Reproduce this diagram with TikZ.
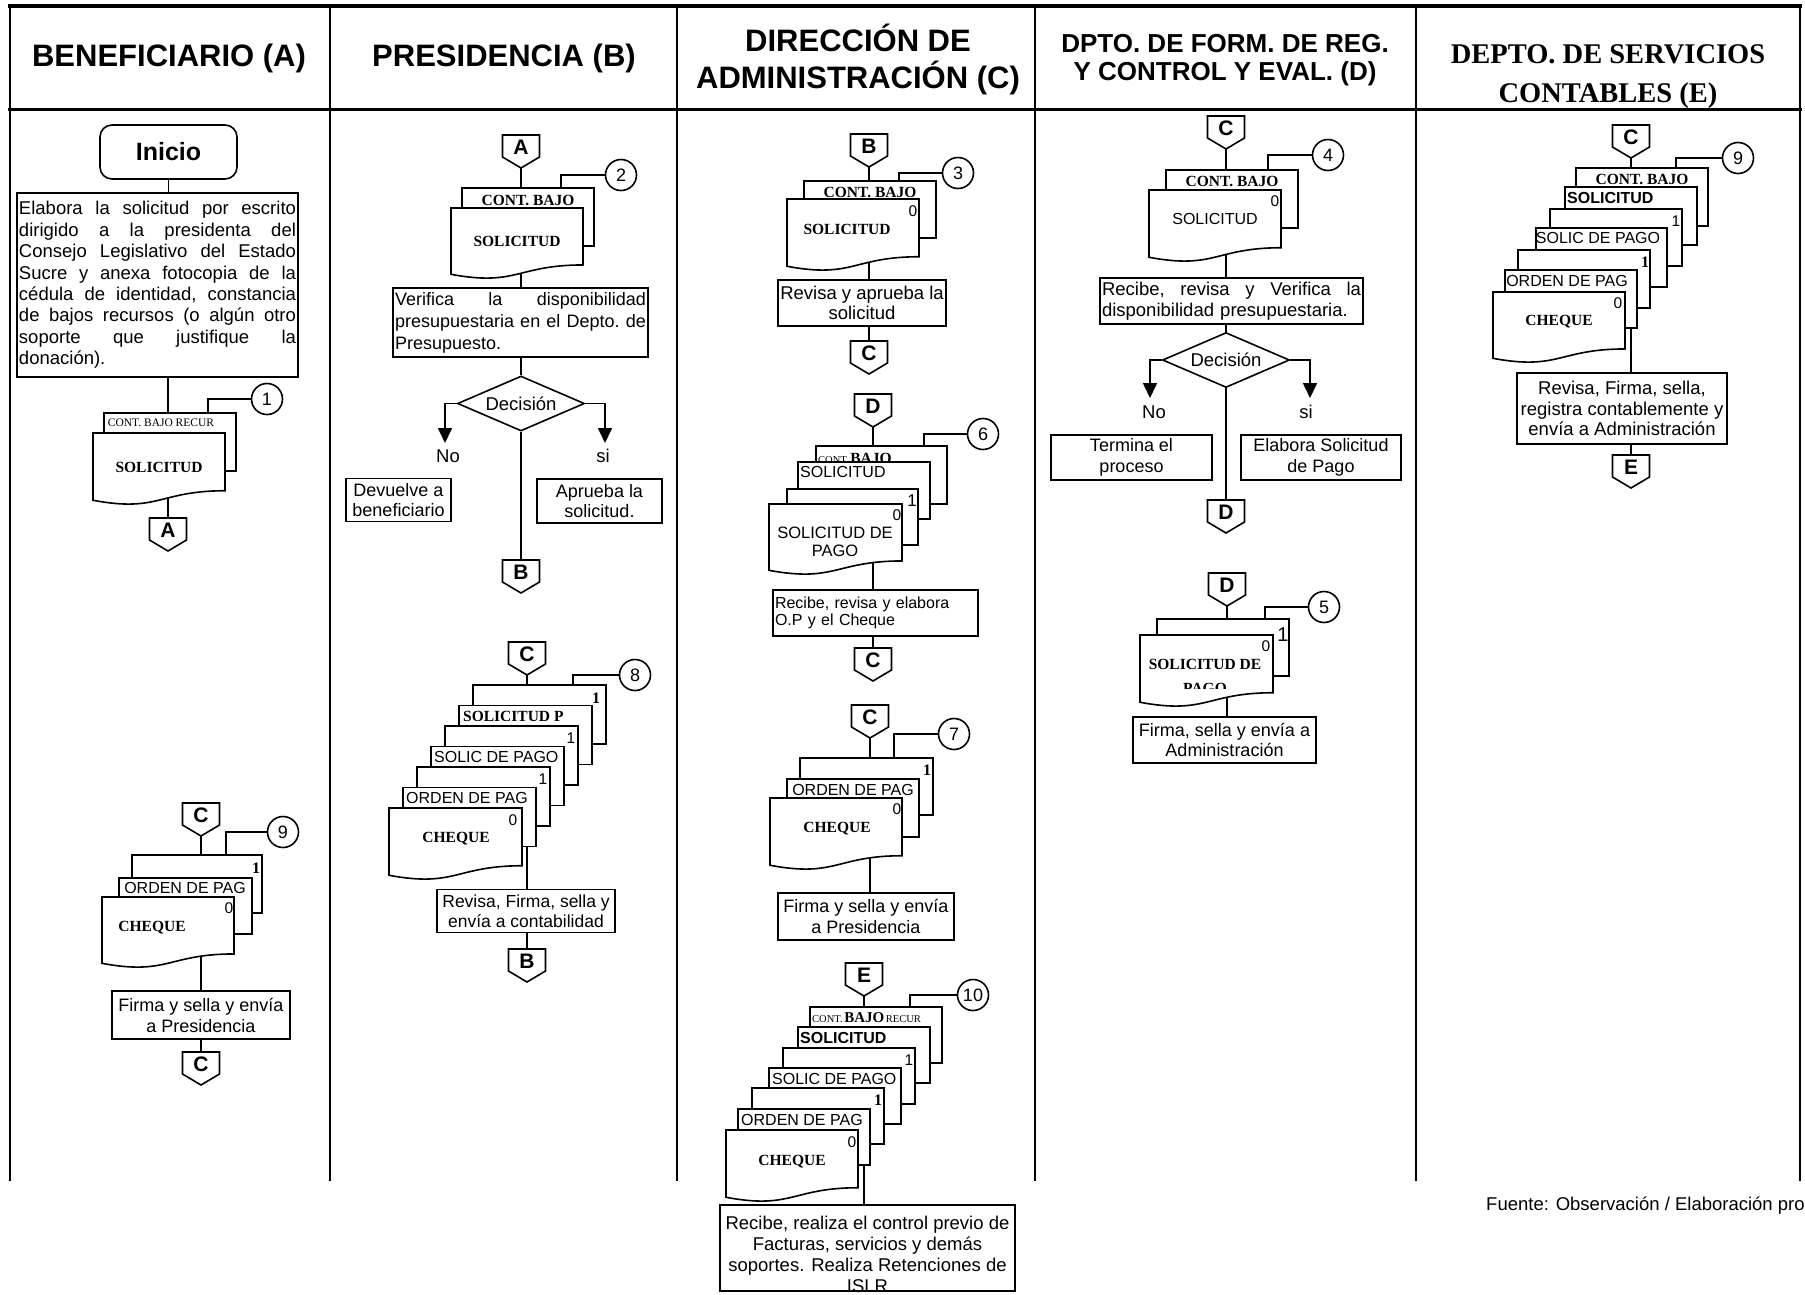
\documentclass[tikz,border=0pt]{standalone}
\usepackage{fontspec}
\setmainfont{Liberation Sans}
\newfontfamily\tms{Liberation Serif}
\usetikzlibrary{shapes.geometric,arrows.meta,backgrounds}
\pgfdeclarelayer{bottom}
\pgfsetlayers{bottom,background,main}
\newcommand\fs[2]{\fontsize{#1}{#2}\selectfont}
\newcommand\jl[2]{\leavevmode\hbox to #1{#2}}
\newcommand\opc[4]{%
  \draw[ln,fill=white] ({#2-18.5},#3) -- ({#2+18.5},#3) -- ({#2+18.5},#3+22) -- (#2,#3+33) -- ({#2-18.5},#3+22) -- cycle;
  \node[lett] (#1) at (#2,#3+12) {#4};
  \coordinate (#1-n) at (#2,#3);
  \coordinate (#1-s) at (#2,#3+33);}
\newcommand\sht[4]{\draw[ln,fill=white] (#1,#2) rectangle ++(#3,#4);}
\newcommand\docu[4]{\draw[ln,fill=white] (#1,#2) -- ++(#3,0) -- ++(0,0.802*#4) .. controls ({#1+#3/2},{#2+0.802*#4}) and ({#1+#3/2},{#2+1.107*#4}) .. (#1,{#2+0.934*#4}) -- cycle;}
\begin{document}
\begin{tikzpicture}[x=1pt,y=-1pt,
  ln/.style={line width=1.6pt},
  box/.style={draw, ln, fill=white, inner sep=0pt, align=center, font=\fs{18}{20.5}},
  circ/.style={draw, ln, circle, fill=white, minimum size=31pt, inner sep=0pt, font=\fs{18}{18}},
  lett/.style={inner sep=0pt, font=\bfseries\fs{21}{21}},
  dia/.style={draw, ln, diamond, fill=white, aspect=2.3, inner sep=0pt, minimum width=127pt, minimum height=55pt, font=\fs{18.5}{18.5}},
  arw/.style={ln, -{Triangle[width=14pt,length=15pt]}},
  tb/.style={inner sep=0pt, font=\tms\bfseries\fs{15.5}{16}},
  tr/.style={inner sep=0pt, font=\tms\fs{11.5}{12}},
  ss/.style={inner sep=0pt, font=\fs{16}{17}},
  sb/.style={inner sep=0pt, font=\bfseries\fs{16}{17}},
  nm/.style={inner sep=0pt, font=\fs{15.5}{16}},
  nb/.style={inner sep=0pt, font=\tms\bfseries\fs{16}{16}},
  lab/.style={inner sep=0pt, font=\fs{18.5}{18.5}},
  hd/.style={inner sep=0pt, align=center, font=\bfseries\fs{31}{37}}]
\useasboundingbox (0,0) rectangle (1805,1294);
\begin{pgfonlayer}{bottom}
\fill[white] (0,0) rectangle (1805,1294);
\end{pgfonlayer}
% table
\draw[line width=3.5pt] (8,6) -- (1802,6);
\draw[line width=3pt] (8,109) -- (1802,109);
\foreach \x in {10,330,677,1035,1416,1800} {\draw[line width=2.8pt] (\x,5) -- (\x,1181);}
% headers
\node[hd] (hA) at (169,58) {BENEFICIARIO (A)};
\node[hd] (hB) at (504,58) {PRESIDENCIA (B)};
\node[hd] (hC) at (858,59) {DIRECCIÓN DE\\ADMINISTRACIÓN (C)};
\node[hd, font=\bfseries\fs{26}{28}] (hD) at (1225,60) {DPTO. DE FORM. DE REG.\\Y CONTROL Y EVAL. (D)};
\node[hd, font=\tms\bfseries\fs{28.5}{39}] (hE) at (1608,77) {DEPTO. DE SERVICIOS\\CONTABLES (E)};
% ---------- column A
\node[draw, ln, rounded corners=12pt, fill=white, minimum width=137pt, minimum height=54pt, inner sep=0pt, font=\bfseries\fs{25}{25}] (ini) at (168.5,152) {Inicio};
\node[box, align=left, minimum width=281pt, minimum height=184pt, text width=277pt, font=\fs{18.5}{21.4}] (bA1) at (157.5,285) {%
\jl{277pt}{Elabora\hfill la\hfill solicitud\hfill por\hfill escrito}\\
\jl{277pt}{dirigido\hfill a\hfill la\hfill presidenta\hfill del}\\
\jl{277pt}{Consejo\hfill Legislativo\hfill del\hfill Estado}\\
\jl{277pt}{Sucre\hfill y\hfill anexa\hfill fotocopia\hfill de\hfill la}\\
\jl{277pt}{cédula\hfill de\hfill identidad,\hfill constancia}\\
\jl{277pt}{de\hfill bajos\hfill recursos\hfill (o\hfill algún\hfill otro}\\
\jl{277pt}{soporte\hfill que\hfill justifique\hfill la}\\
donación).};
\sht{104}{413}{132}{58}
\node[tr] (a1t) at (161,423) {CONT. BAJO RECUR};
\docu{93}{433}{132}{72}
\node[tb] (a1s) at (159,467) {SOLICITUD};
\node[circ] (c1) at (267,399) {1};
\coordinate (k1) at (208,413);
\opc{oA1}{168}{518}{A}
% lower A
\opc{oA2}{201}{803}{C}
\sht{132}{855}{130}{58}
\node[nb] (a9n1) at (256,868) {1};
\sht{119}{878}{133}{56}
\node[ss] (a9o) at (185,888) {ORDEN DE PAG};
\docu{102}{897}{132}{71}
\node[nm] (a9z) at (229,908) {0};
\node[tb] (a9c) at (152,928) {CHEQUE};
\node[circ] (c9a) at (283,832) {9};
\coordinate (k9a) at (226,855);
\node[box, minimum width=178pt, minimum height=48pt, font=\fs{18}{21}] (bA2) at (201,1015) {Firma y sella y envía\\a Presidencia};
\opc{oA3}{201}{1052}{C}
% ---------- column B
\opc{oB1}{521}{135}{A}
\sht{462}{188}{132}{58}
\node[tb] (b2t) at (528,200) {CONT. BAJO};
\docu{451}{208}{132}{71}
\node[tb] (b2s) at (517,241) {SOLICITUD};
\node[circ] (c2) at (621,175) {2};
\coordinate (k2) at (561,188);
\node[box, align=left, minimum width=255pt, minimum height=69pt, text width=251pt, font=\fs{18}{22}] (bB1) at (520.5,322.5) {\jl{251pt}{Verifica\hfill la\hfill disponibilidad}\\\jl{251pt}{presupuestaria\hfill en\hfill el\hfill Depto.\hfill de}\\Presupuesto.};
\node[dia] (dB) at (521,403.5) {Decisión};
\coordinate (nB) at (445,443);
\coordinate (sB) at (605,443);
\node[lab] (noB) at (448,456) {No};
\node[lab] (siB) at (603,456) {si};
\node[box, minimum width=105pt, minimum height=43pt, font=\fs{18}{20}] (bB2) at (398.5,500) {Devuelve a\\beneficiario};
\node[box, minimum width=125pt, minimum height=44pt] (bB3) at (599.5,501) {Aprueba la\\solicitud.};
\opc{oB2}{521}{560}{B}
% lower B
\opc{oB3}{527}{642}{C}
\sht{473}{685}{133}{59}
\node[nb] (b8n1) at (596,698) {1};
\sht{459}{705.5}{133}{59}
\node[tb, anchor=west] (b8s) at (463,716) {SOLICITUD P};
\sht{445}{726}{133}{59}
\node[nm] (b8n2) at (571,738) {1};
\sht{431}{746.5}{133}{59}
\node[ss, anchor=west] (b8p) at (434,757) {SOLIC DE PAGO};
\sht{417}{767}{133}{59}
\node[nm] (b8n3) at (543,779) {1};
\sht{403}{787.5}{133}{59}
\node[ss, anchor=west] (b8o) at (406,798) {ORDEN DE PAG};
\docu{389}{808}{133}{72}
\node[nm] (b8z) at (513,820) {0};
\node[tb] (b8c) at (456,839) {CHEQUE};
\node[circ] (c8) at (635,675) {8};
\coordinate (k8) at (573,685);
\node[box, minimum width=178pt, minimum height=43pt, font=\fs{17.5}{20}] (bB4) at (526,911) {Revisa, Firma, sella y\\envía a contabilidad};
\opc{oB4}{527}{949}{B}
% ---------- column C
\opc{oC1}{869}{134}{B}
\sht{804}{181}{132}{57}
\node[tb] (c3t) at (870,192) {CONT. BAJO};
\docu{787}{199}{132}{72}
\node[nm] (c3z) at (913,211) {0};
\node[tb] (c3s) at (847,229) {SOLICITUD};
\node[circ] (c3) at (958,173) {3};
\coordinate (k3) at (899,181);
\node[box, minimum width=168pt, minimum height=46pt, font=\fs{18.5}{20.5}] (bC1) at (862,303) {Revisa y aprueba la\\solicitud};
\opc{oC2}{869}{341}{C}
% stack 6
\opc{oC3}{873}{394}{D}
\sht{816}{446}{131}{58}
\node[anchor=west, inner sep=0pt] (c6t) at (818,458) {{\tms\fs{10.5}{11}CONT.}\,{\tms\bfseries\fs{15.5}{16}BAJO}};
\sht{798}{462}{132}{57}
\node[ss, anchor=west] (c6s) at (800,472) {SOLICITUD};
\sht{787}{489}{131}{56}
\node[nm, font=\fs{17}{17}] (c6n) at (912,501) {1};
\docu{769}{504}{133}{71}
\node[nm] (c6z) at (897,515) {0};
\node[ss, align=center, font=\fs{16.5}{18.5}] (c6p) at (835,542) {SOLICITUD DE\\PAGO};
\node[circ] (c6) at (983,434) {6};
\coordinate (k6) at (924,446);
\node[box, align=left, minimum width=205pt, minimum height=46pt, text width=201pt, font=\fs{16}{17.5}] (bC2) at (875.5,613) {Recibe, revisa y elabora\\O.P y el Cheque};
\opc{oC4}{873}{648}{C}
% stack 7
\opc{oC5}{870}{705}{C}
\sht{800}{758}{133}{57}
\node[nb] (c7n) at (927,770) {1};
\sht{787}{779}{132}{58}
\node[ss] (c7o) at (853,790) {ORDEN DE PAG};
\docu{770}{798}{132}{72}
\node[nm] (c7z) at (897,809) {0};
\node[tb] (c7c) at (837,829) {CHEQUE};
\node[circ] (c7) at (954,734) {7};
\coordinate (k7) at (894,758);
\node[box, minimum width=176pt, minimum height=47pt, font=\fs{18}{21}] (bC3) at (866,916.5) {Firma y sella y envía\\a Presidencia};
% stack 10
\opc{oC6}{864}{963}{E}
\sht{810}{1007}{132}{56}
\node[anchor=west, inner sep=0pt] (c10t) at (812,1018) {{\tms\fs{10.5}{11}CONT.}\,{\tms\bfseries\fs{15}{16}BAJO}\,{\tms\fs{10.5}{11}RECUR}};
\sht{798}{1027}{132}{56}
\node[sb, anchor=west] (c10s) at (800,1038) {SOLICITUD};
\sht{783}{1048}{132}{56}
\node[nm] (c10n1) at (909,1060) {1};
\sht{769}{1068}{132}{56}
\node[ss, anchor=west] (c10p) at (772,1079) {SOLIC DE PAGO};
\sht{752}{1088}{132}{56}
\node[nb] (c10n2) at (878,1100) {1};
\sht{738}{1109}{132}{56}
\node[ss, anchor=west] (c10o) at (741,1120) {ORDEN DE PAG};
\docu{726}{1130}{132}{72}
\node[nm] (c10z) at (852,1142) {0};
\node[tb] (c10c) at (792,1162) {CHEQUE};
\node[circ] (c10) at (973,995) {10};
\coordinate (k10) at (910,1007);
\node[box, minimum width=295pt, minimum height=86pt] (bC4) at (867.5,1248) {};
\node[inner sep=0pt, align=center, anchor=north, font=\fs{18.5}{20.8}] (bC4t) at (867.5,1216) {Recibe, realiza el control previo de\\Facturas, servicios y demás\\soportes. Realiza Retenciones de\\ISLR};
% ---------- column D
\opc{oD1}{1226}{116}{C}
\sht{1166}{170}{132}{58}
\node[tb] (d4t) at (1232,181) {CONT. BAJO};
\docu{1149}{190}{132}{72}
\node[nm] (d4z) at (1275,201) {0};
\node[ss] (d4s) at (1215,219) {SOLICITUD};
\node[circ] (c4) at (1328,155) {4};
\coordinate (k4) at (1268,170);
\node[box, align=left, minimum width=263pt, minimum height=46pt, text width=259pt, font=\fs{18.5}{21}] (bD1) at (1231.5,301) {\jl{259pt}{Recibe,\hfill revisa\hfill y\hfill Verifica\hfill la}\\disponibilidad presupuestaria.};
\node[dia] (dD) at (1226,360) {Decisión};
\coordinate (nD) at (1150,398);
\coordinate (sD) at (1310,398);
\node[lab] (noD) at (1154,412) {No};
\node[lab] (siD) at (1306,412) {si};
\node[box, minimum width=161pt, minimum height=45pt] (bD2) at (1131.5,457.5) {Termina el\\proceso};
\node[box, minimum width=160pt, minimum height=45pt] (bD3) at (1321,457.5) {Elabora Solicitud\\de Pago};
\opc{oD2}{1226}{500}{D}
% lower D
\opc{oD3}{1227}{573}{D}
\sht{1157}{619}{132}{57}
\node[inner sep=0pt, font=\fs{20}{20}] (d5n) at (1283,635) {1};
\docu{1140}{635}{133}{72}
\node[nm] (d5z) at (1266,646) {0};
\begin{scope}
\clip (1141,640) rectangle (1272,688);
\node[tb, align=center, font=\tms\bfseries\fs{15.5}{24}] (d5s) at (1205,676) {SOLICITUD DE\\PAGO};
\end{scope}
\node[circ] (c5) at (1324,607) {5};
\coordinate (k5) at (1265,619);
\node[box, minimum width=183pt, minimum height=46pt] (bD4) at (1224.5,740) {Firma, sella y envía a\\Administración};
% ---------- column E
\opc{oE1}{1631}{125}{C}
\sht{1576}{168}{132}{58}
\node[tb] (e9t) at (1642,179) {CONT. BAJO};
\sht{1565}{187}{132}{58}
\node[sb, anchor=west] (e9s) at (1567,198) {SOLICITUD};
\sht{1550}{209}{132}{57}
\node[nm] (e9n1) at (1676,221) {1};
\sht{1536}{228}{131}{59}
\node[ss] (e9p) at (1598,238) {SOLIC DE PAGO};
\sht{1518}{250}{132}{58}
\node[nb] (e9n2) at (1645,262) {1};
\sht{1505}{270}{132}{58}
\node[ss] (e9o) at (1567,281) {ORDEN DE PAG};
\docu{1493}{292}{132}{71}
\node[nm] (e9z) at (1618,303) {0};
\node[tb] (e9c) at (1559,322) {CHEQUE};
\node[circ] (c9e) at (1738,158) {9};
\coordinate (k9e) at (1676,168);
\node[box, minimum width=210pt, minimum height=71pt, font=\fs{18.5}{20.5}] (bE1) at (1622,408.5) {Revisa, Firma, sella,\\registra contablemente y\\envía a Administración};
\opc{oE2}{1631}{455}{E}
% footer
\node[anchor=west, inner sep=0pt, font=\fs{18.5}{19}] (src) at (1486,1206) {Fuente: Observación / Elaboración pro};
% ---------- connectors
\begin{scope}[on background layer]
 \draw[ln] (ini.south) -- (ini.south |- bA1.north);
 \draw[ln] (bA1.south -| oA1-n) -- (oA1-n);
 \draw[ln] (c1.west) -| (k1);
 \draw[ln] (oA2-s) -- (oA2-s |- bA2.north);
 \draw[ln] (c9a.west) -| (k9a);
 \draw[ln] (bA2.south -| oA3-n) -- (oA3-n);
 \draw[ln] (oB1-s) -- (oB1-s |- bB1.north);
 \draw[ln] (c2.west) -| (k2);
 \draw[ln] (bB1.south -| dB.north) -- (dB.north);
 \draw[arw] (dB.west) -| (nB);
 \draw[arw] (dB.east) -| (sB);
 \draw[ln] (dB.south) -- (dB.south |- oB2-n);
 \draw[ln] (oB3-s) -- (oB3-s |- bB4.north);
 \draw[ln] (c8.west) -| (k8);
 \draw[ln] (bB4.south -| oB4-n) -- (oB4-n);
 \draw[ln] (oC1-s) -- (oC1-s |- bC1.north);
 \draw[ln] (c3.west) -| (k3);
 \draw[ln] (bC1.south -| oC2-n) -- (oC2-n);
 \draw[ln] (oC3-s) -- (oC3-s |- bC2.north);
 \draw[ln] (c6.west) -| (k6);
 \draw[ln] (bC2.south -| oC4-n) -- (oC4-n);
 \draw[ln] (oC5-s) -- (oC5-s |- bC3.north);
 \draw[ln] (c7.west) -| (k7);
 \draw[ln] (oC6-s) -- (oC6-s |- bC4.north);
 \draw[ln] (c10.west) -| (k10);
 \draw[ln] (oD1-s) -- (oD1-s |- bD1.north);
 \draw[ln] (c4.west) -| (k4);
 \draw[ln] (bD1.south -| dD.north) -- (dD.north);
 \draw[arw] (dD.west) -| (nD);
 \draw[arw] (dD.east) -| (sD);
 \draw[ln] (dD.south) -- (dD.south |- oD2-n);
 \draw[ln] (oD3-s) -- (oD3-s |- bD4.north);
 \draw[ln] (c5.west) -| (k5);
 \draw[ln] (oE1-s) -- (oE1-s |- bE1.north);
 \draw[ln] (c9e.west) -| (k9e);
 \draw[ln] (bE1.south -| oE2-n) -- (oE2-n);
\end{scope}
\end{tikzpicture}
\end{document}
